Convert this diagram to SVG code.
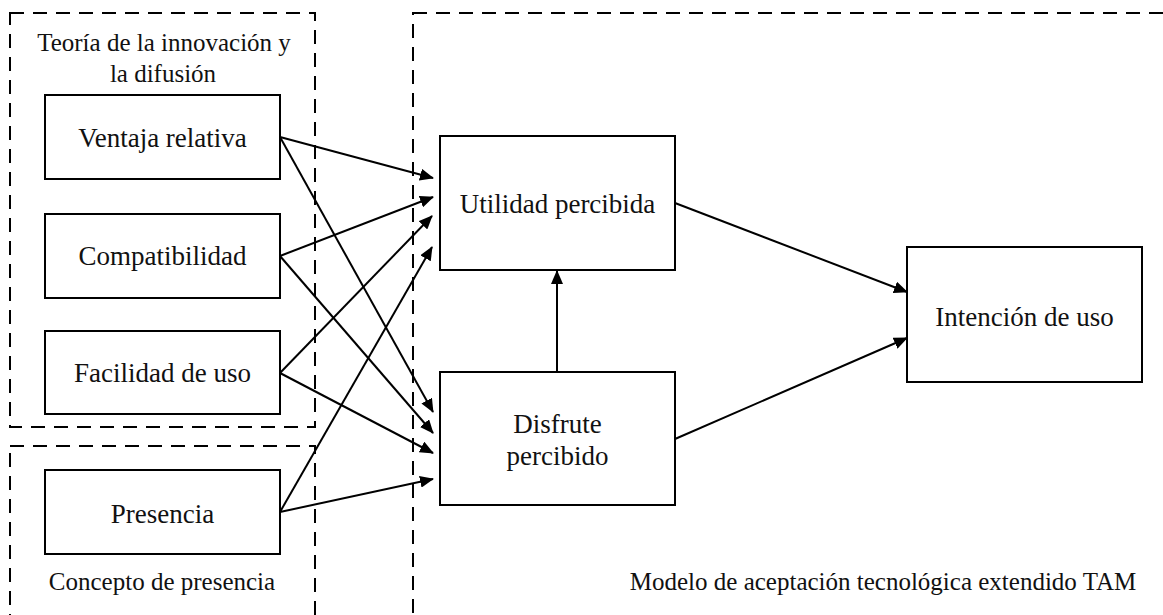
<svg xmlns="http://www.w3.org/2000/svg" width="1163" height="615" viewBox="0 0 1163 615">
  <style>
    .frame { fill: none; stroke: #000; stroke-width: 2; stroke-dasharray: 14 9; }
    .box { fill: #fff; stroke: #000; stroke-width: 2; }
    .lbl, .cap { font-family: 'Liberation Serif', serif; fill: #111; text-anchor: middle; }
    .lbl { font-size: 27px; }
    .cap { font-size: 25px; }
    .edge { fill: none; stroke: #000; stroke-width: 2; marker-end: url(#head); }
  </style>
  <defs>
    <marker id="head" markerUnits="userSpaceOnUse" markerWidth="14" markerHeight="12" refX="13" refY="6" orient="auto">
      <path d="M0,0 L14,6 L0,12 z" fill="#000"/>
    </marker>
  </defs>

  <rect width="1163" height="615" fill="#fff"/>

  <!-- dashed grouping frames -->
  <g id="frames">
    <rect class="frame" x="10" y="13" width="305" height="414"/>
    <rect class="frame" x="10" y="446" width="305" height="200"/>
    <rect class="frame" x="413" y="13" width="800" height="650"/>
  </g>

  <g id="group-labels">
    <text class="cap" x="164" y="51">Teor&#237;a de la innovaci&#243;n y</text>
    <text class="cap" x="163" y="82">la difusi&#243;n</text>
    <text class="cap" x="162" y="590">Concepto de presencia</text>
    <text class="cap" x="883" y="590">Modelo de aceptaci&#243;n tecnol&#243;gica extendido TAM</text>
  </g>

  <!-- connectors -->
  <g id="connectors">
    <line class="edge" x1="280" y1="137" x2="433" y2="178"/>
    <line class="edge" x1="280" y1="137" x2="433" y2="412"/>
    <line class="edge" x1="280" y1="256" x2="433" y2="197"/>
    <line class="edge" x1="280" y1="256" x2="433" y2="433"/>
    <line class="edge" x1="280" y1="373" x2="432" y2="216"/>
    <line class="edge" x1="280" y1="373" x2="433" y2="453"/>
    <line class="edge" x1="280" y1="512" x2="432" y2="247"/>
    <line class="edge" x1="280" y1="512" x2="433" y2="479"/>
    <line class="edge" x1="557" y1="372" x2="557" y2="271"/>
    <line class="edge" x1="675" y1="203" x2="907" y2="292"/>
    <line class="edge" x1="675" y1="439" x2="907" y2="338"/>
  </g>

  <!-- nodes -->
  <g id="ventaja">
    <rect class="box" x="45" y="95" width="235" height="84"/>
    <text class="lbl" x="162.5" y="147">Ventaja relativa</text>
  </g>
  <g id="compatibilidad">
    <rect class="box" x="45" y="214" width="235" height="84"/>
    <text class="lbl" x="162.5" y="265">Compatibilidad</text>
  </g>
  <g id="facilidad">
    <rect class="box" x="45" y="331" width="235" height="83"/>
    <text class="lbl" x="162.5" y="382">Facilidad de uso</text>
  </g>
  <g id="presencia">
    <rect class="box" x="45" y="470" width="235" height="84"/>
    <text class="lbl" x="162.5" y="523">Presencia</text>
  </g>
  <g id="utilidad">
    <rect class="box" x="440" y="136" width="235" height="134"/>
    <text class="lbl" x="557.5" y="213">Utilidad percibida</text>
  </g>
  <g id="disfrute">
    <rect class="box" x="440" y="372" width="235" height="133"/>
    <text class="lbl" x="557.5" y="433">Disfrute</text>
    <text class="lbl" x="557.5" y="465">percibido</text>
  </g>
  <g id="intencion">
    <rect class="box" x="907" y="247" width="235" height="135"/>
    <text class="lbl" x="1024.5" y="326">Intenci&#243;n de uso</text>
  </g>
</svg>
